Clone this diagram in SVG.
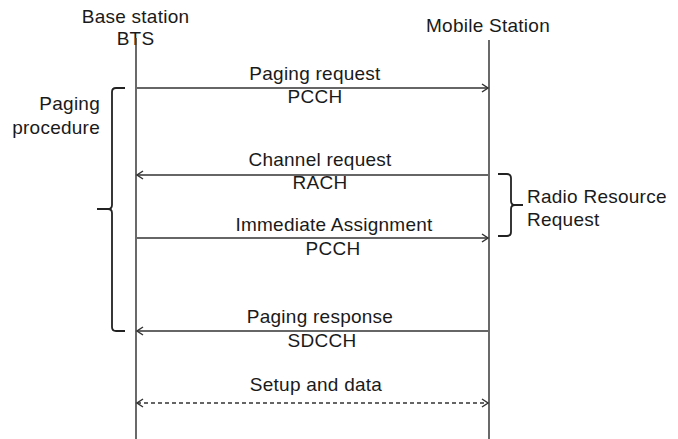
<svg xmlns="http://www.w3.org/2000/svg" width="678" height="439" viewBox="0 0 678 439">
<defs>
<marker id="ah" markerWidth="10" markerHeight="10" refX="8" refY="5" orient="auto-start-reverse" markerUnits="userSpaceOnUse">
<path d="M2,1 L8,5 L2,9" fill="none" stroke="#333" stroke-width="1.5"/>
</marker>
<style>
text{font-family:"Liberation Sans",Arial,sans-serif;font-size:19px;letter-spacing:0.25px;fill:#1a1a1a}
.c{text-anchor:middle}
.ln{stroke:#444;stroke-width:1.6;fill:none}
.msg{stroke:#333;stroke-width:1.5;fill:none}
.br{stroke:#222;stroke-width:1.8;fill:none}
</style>
</defs>
<rect width="678" height="439" fill="#fff"/>
<g id="bts">
<text class="c" x="135.5" y="23">Base station</text>
<text class="c" x="135.5" y="45">BTS</text>
<line class="ln" x1="136" y1="38" x2="136" y2="439"/>
</g>
<g id="ms">
<text class="c" x="488" y="32">Mobile Station</text>
<line class="ln" x1="489" y1="40" x2="489" y2="439"/>
</g>
<g id="paging-procedure">
<path class="br" d="M125,88 L116,88 Q112,88 112,92 L112,205 Q112,209 108,209 L97,209 M108,209 Q112,209 112,213 L112,327 Q112,331 116,331 L125,331"/>
<text x="100" y="110" text-anchor="end">Paging</text>
<text x="100" y="134" text-anchor="end">procedure</text>
</g>
<g id="radio-resource-request">
<path class="br" d="M498,174 L507,174 Q511,174 511,178 L511,201 Q511,205 515,205 L523,205 M515,205 Q511,205 511,209 L511,232 Q511,236 507,236 L498,236"/>
<text x="527" y="203">Radio Resource</text>
<text x="527" y="226">Request</text>
</g>
<g id="connectors">
<line class="msg" x1="137" y1="88" x2="488" y2="88" marker-end="url(#ah)"/>
<line class="msg" x1="488" y1="175" x2="137" y2="175" marker-end="url(#ah)"/>
<line class="msg" x1="137" y1="238" x2="488" y2="238" marker-end="url(#ah)"/>
<line class="msg" x1="488" y1="331" x2="137" y2="331" marker-end="url(#ah)"/>
<line class="msg" x1="137" y1="403" x2="488" y2="403" stroke-dasharray="4,3" marker-start="url(#ah)" marker-end="url(#ah)"/>
</g>
<g id="labels">
<text class="c" x="315" y="80">Paging request</text>
<text class="c" x="315" y="103">PCCH</text>
<text class="c" x="320" y="166">Channel request</text>
<text class="c" x="320" y="189">RACH</text>
<text class="c" x="334" y="231">Immediate Assignment</text>
<text class="c" x="333" y="255">PCCH</text>
<text class="c" x="320" y="323">Paging response</text>
<text class="c" x="322" y="347">SDCCH</text>
<text class="c" x="316" y="391">Setup and data</text>
</g>
</svg>
